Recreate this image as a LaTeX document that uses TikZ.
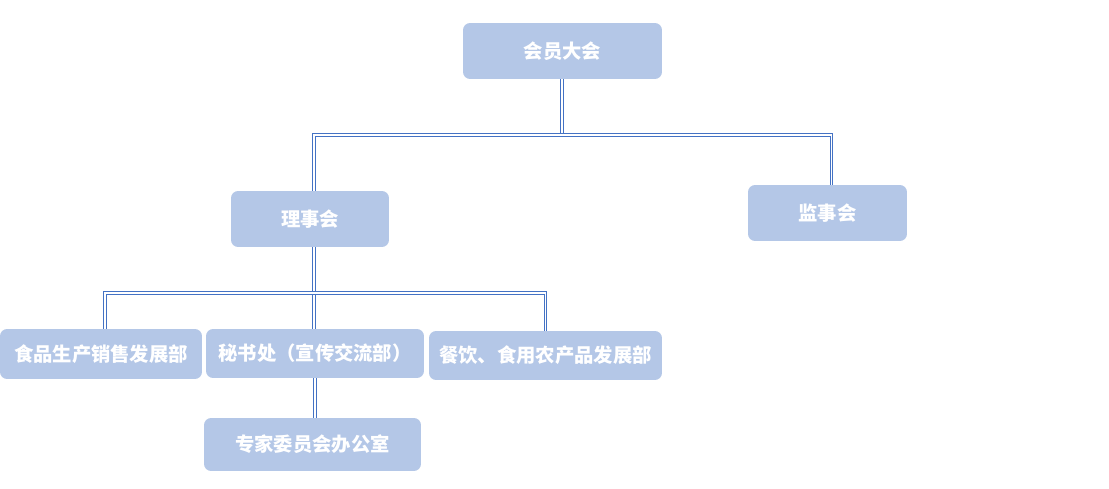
\documentclass[tikz,border=0pt]{standalone}
\usepackage{fontspec}
\newfontfamily\cjk{Noto Sans CJK SC}
\definecolor{boxfill}{RGB}{180,199,231}
\definecolor{linkblue}{RGB}{68,114,196}
\tikzset{
    box/.style={rectangle, rounded corners=4pt, fill=boxfill, text=white, inner sep=0,
        font=\cjk\bfseries\fontsize{11}{13}\selectfont},
    link/.style={draw=linkblue, line width=0.4pt, double=white, double distance=1pt}
}

\begin{document}
\begin{tikzpicture}[x=0.02cm, y=-0.02cm]
    \useasboundingbox (0,0) rectangle (1109,489);
    \node[box, minimum width=3.98cm, minimum height=1.12cm] (assembly) at (562.5,51) {会员大会};
    \node[box, minimum width=3.16cm, minimum height=1.12cm] (council) at (310,219) {理事会};
    \node[box, minimum width=3.18cm, minimum height=1.12cm] (supervisors) at (827.5,213) {监事会};
    \node[box, minimum width=4.04cm, minimum height=1.0cm] (sales) at (101,354) {食品生产销售发展部};
    \node[box, minimum width=4.36cm, minimum height=0.98cm] (secretariat) at (315,353.5) {秘书处（宣传交流部）};
    \node[box, minimum width=4.66cm, minimum height=0.98cm] (catering) at (545.5,355.5) {餐饮、食用农产品发展部};
    \node[box, minimum width=4.34cm, minimum height=1.06cm] (experts) at (312.5,444.5) {专家委员会办公室};

    % junctions
    \coordinate (bus1) at (562,135);
    \coordinate (bus2) at (314,293);

    \draw[link] (assembly.south -| bus1) -- (bus1);
    \draw[link] ([xshift=0.08cm]council.north) |- (bus1) -| ([xshift=0.08cm]supervisors.north);
    \draw[link] (council.south -| bus2) -- (secretariat.north -| bus2);
    \draw[link] ([xshift=0.08cm]sales.north) |- (bus2) -| (catering.north);
    \draw[link] (secretariat.south) -- (experts.north -| secretariat.south);
\end{tikzpicture}
\end{document}
